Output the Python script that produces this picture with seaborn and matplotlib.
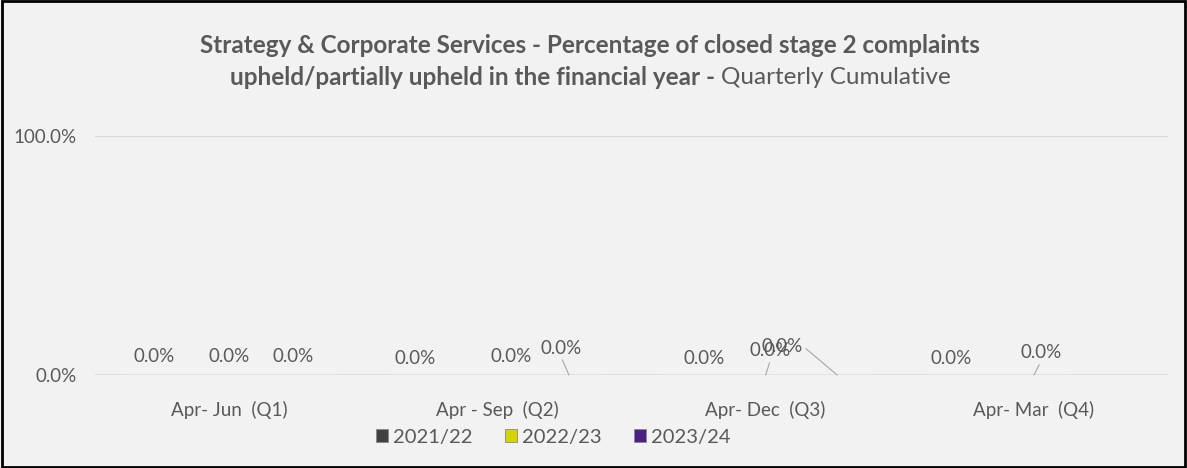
import matplotlib
matplotlib.use("Agg")
import matplotlib.pyplot as plt
import matplotlib.patches as mpatches
import seaborn as sns
import numpy as np
import pandas as pd

# data
quarters = ["Apr- Jun  (Q1)", "Apr - Sep  (Q2)", "Apr- Dec  (Q3)", "Apr- Mar  (Q4)"]
years = ["2021/22", "2022/23", "2023/24"]
vals_2122 = [0.0, 0.0, 0.0, 0.0]
vals_2223 = [0.0, 0.0, 0.0, 0.0]
vals_2324 = [0.0, 0.0, 0.0, np.nan]
colours = ["#404040", "#d4d400", "#4b2085"]

df = pd.DataFrame({
    "quarter": quarters * 3,
    "year": [y for y in years for _ in quarters],
    "value": vals_2122 + vals_2223 + vals_2324,
})

# label offsets (pixels from bar top), and whether a leader line is drawn
label_pos = {
    (0, 0): (-3, 18, False), (0, 1): (0, 18, False), (0, 2): (-8, 18, False),
    (1, 0): (-11, 16, False), (1, 1): (14, 18, False), (1, 2): (-8, 27, True),
    (2, 0): (10, 16, False), (2, 1): (5, 24, True), (2, 2): (-55, 29, True),
    (3, 0): (-11, 16, False), (3, 1): (7, 22, True),
}

txt = "#595959"
bg = "#f2f2f2"
fs = 13.5
sns.set_theme(style="white")
plt.rcParams["font.family"] = ["Lato", "DejaVu Sans"]

fig = plt.figure(figsize=(11.87, 4.68), dpi=100, facecolor=bg)
ax = fig.add_axes([95 / 1187, 93 / 468, 1073 / 1187, 239 / 468], facecolor=bg)

sns.barplot(data=df, x="quarter", y="value", hue="year", palette=colours,
            width=0.8, ax=ax, legend=False)

ax.set_ylim(0, 1)
ax.set_yticks([0, 1])
ax.set_yticklabels(["0.0%", "100.0%"], color=txt, fontsize=fs)
ax.set_xticks(range(len(quarters)))
ax.set_xticklabels(quarters, color=txt, fontsize=fs)
ax.tick_params(axis="x", length=0, pad=19)
ax.tick_params(axis="y", length=0, pad=13)
ax.set_xlabel("")
ax.set_ylabel("")
for s in ax.spines.values():
    s.set_visible(False)
ax.axhline(1, color="#d9d9d9", lw=1, zorder=0)
ax.axhline(0, color="#d9d9d9", lw=1.2, zorder=0)

# data labels
series = [vals_2122, vals_2223, vals_2324]
for j, vals in enumerate(series):
    for i, v in enumerate(vals):
        if np.isnan(v):
            continue
        xb = i + (j - 1) * 0.8 / 3
        dx, dy, leader = label_pos[(i, j)]
        ap = None
        if leader:
            ap = dict(arrowstyle="-", color="#a6a6a6", lw=0.8, shrinkA=0, shrinkB=0,
                      relpos=(1.0, 0.5) if (i, j) == (2, 2) else (0.5, 0.0))
        ax.annotate(f"{v:.1%}", xy=(xb, v), xytext=(dx, dy), textcoords="offset pixels",
                    ha="center", va="center", color=txt, fontsize=fs, arrowprops=ap)

title_fs = 17.5
fig.text(0.497, 0.903, "Strategy & Corporate Services - Percentage of closed stage 2 complaints",
         ha="center", va="center", color=txt, fontsize=title_fs, fontweight="bold")
t1 = fig.text(0.5, 0.835, "upheld/partially upheld in the financial year - ",
              ha="right", va="center", color=txt, fontsize=title_fs, fontweight="bold")
t2 = fig.text(0.5, 0.835, "Quarterly Cumulative", ha="left", va="center",
              color=txt, fontsize=title_fs)
fig.canvas.draw()
w1 = t1.get_window_extent().width
w2 = t2.get_window_extent().width
cx = 590
split = (cx - (w1 + w2) / 2 + w1) / 1187
t1.set_x(split)
t2.set_x(split)

handles = [mpatches.Patch(facecolor=c, edgecolor="#888888", lw=0.6) for c in colours]
fig.legend(handles, years, loc="center", bbox_to_anchor=(553 / 1187, 1 - 437 / 468),
           ncol=3, frameon=False, labelcolor=txt, handlelength=0.6,
           handleheight=0.6, handletextpad=0.25, columnspacing=1.6,
           prop={"size": 14.5})

fig.patches.append(mpatches.Rectangle((0.002, 0.003), 0.996, 0.994, transform=fig.transFigure,
                                      fill=False, edgecolor="black", lw=2))

fig.savefig("out.png", dpi=100, facecolor=bg)
